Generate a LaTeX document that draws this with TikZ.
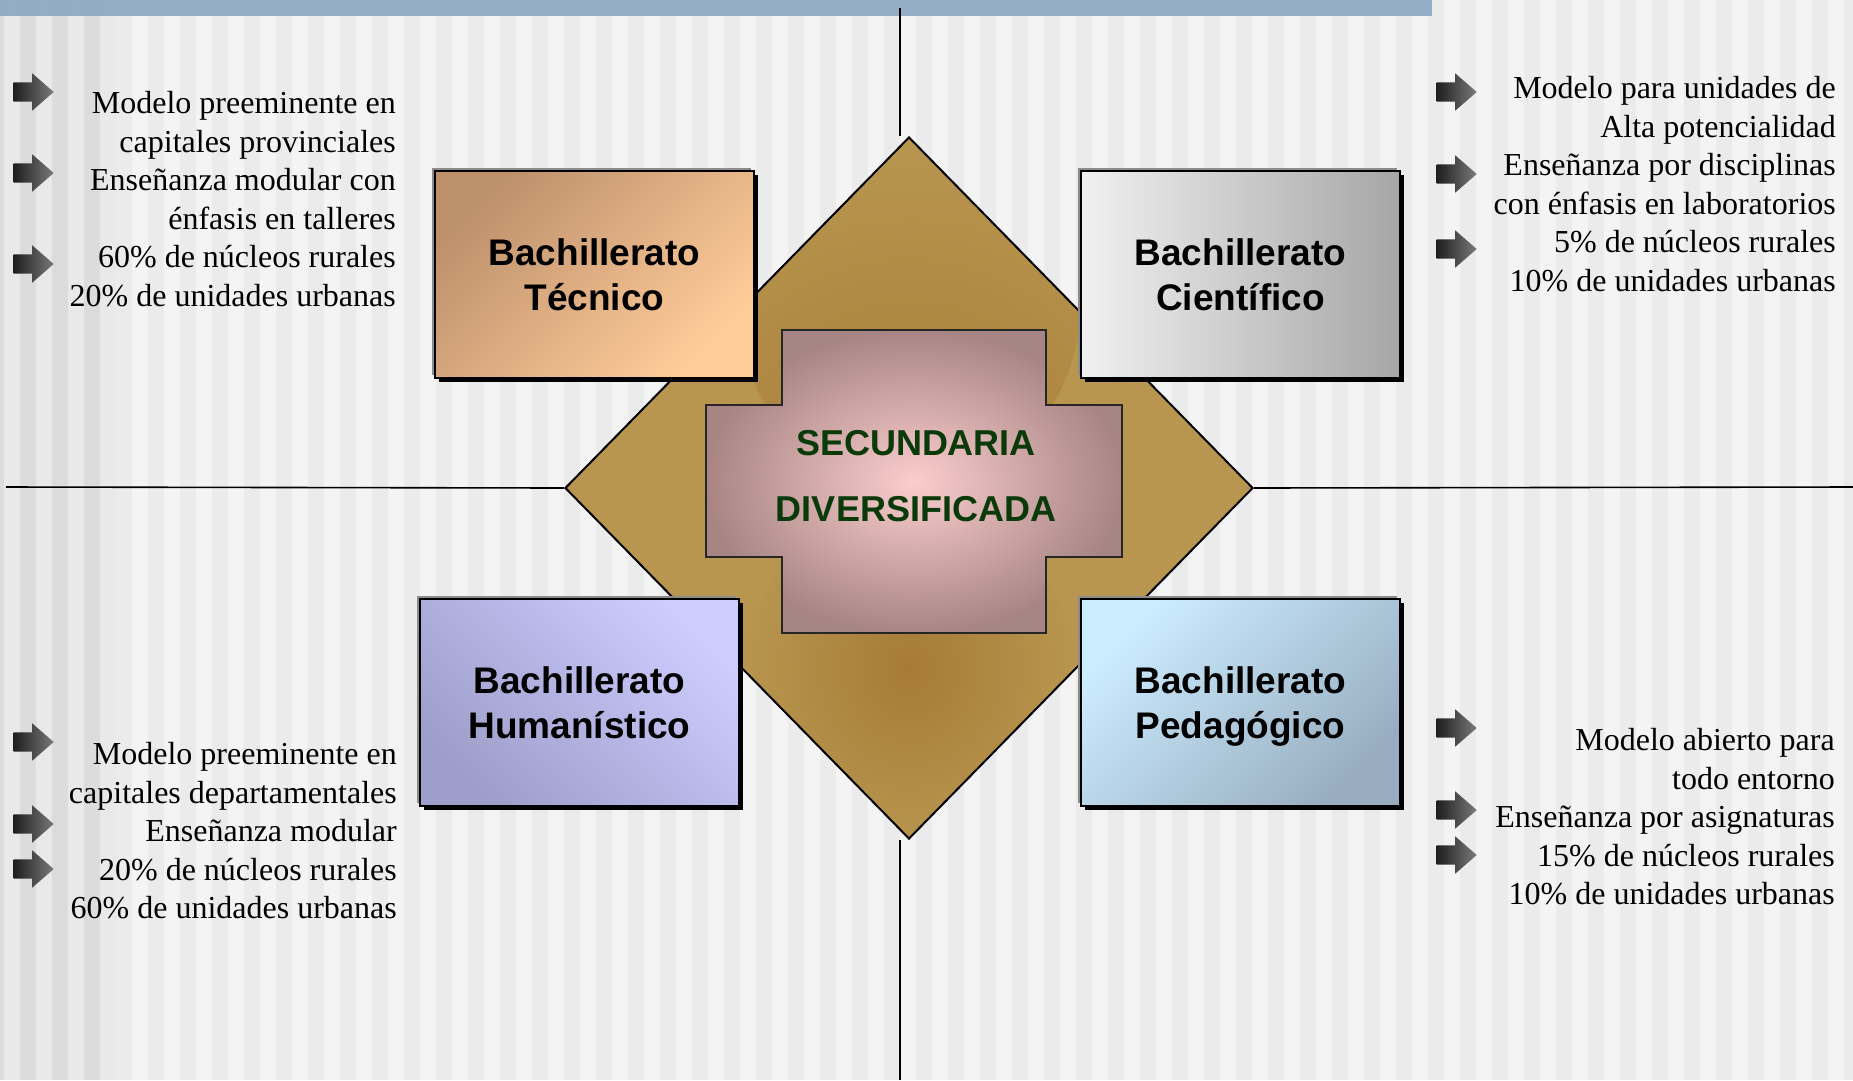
\documentclass[tikz,border=0pt]{standalone}
\usepackage{fontspec}
\setmainfont{Liberation Serif}
\setsansfont{Liberation Sans}
\usetikzlibrary{shapes.geometric,shapes.arrows,shadows}

\definecolor{stripeA}{HTML}{F4F4F4}
\definecolor{stripeB}{HTML}{EBEBEB}
\definecolor{stripeC}{HTML}{E9E9E9}
\definecolor{stripeD}{HTML}{DCDCDC}
\definecolor{barblue}{HTML}{8EA9C4}
\definecolor{gold}{HTML}{B8964F}
\definecolor{golddark}{HTML}{A67B36}
\definecolor{mauve}{HTML}{A88585}
\definecolor{pinkc}{HTML}{FBCDCD}
\definecolor{darkgreen}{HTML}{0A3A0A}
\definecolor{tecA}{HTML}{BE916D}
\definecolor{tecB}{HTML}{FFCC99}
\definecolor{cienA}{HTML}{F0F0F0}
\definecolor{cienB}{HTML}{A6A6A6}
\definecolor{humA}{HTML}{CCCCFF}
\definecolor{humB}{HTML}{9E9ECA}
\definecolor{pedA}{HTML}{CCECFF}
\definecolor{pedB}{HTML}{98AEC0}

\begin{document}
\begin{tikzpicture}[x=1pt, y=-1pt,
  box/.style={draw, line width=2.5pt, minimum width=319pt, minimum height=207pt, inner sep=0pt, align=center,
    font=\sffamily\bfseries\fontsize{37}{45}\selectfont,
    general shadow={fill=black!45, shadow xshift=-3pt, shadow yshift=3pt},
    general shadow={fill=black, shadow xshift=4pt, shadow yshift=-4pt}},
  notes/.style={anchor=east, inner sep=0pt, align=right, font=\fontsize{32}{38.5}\selectfont},
  bullet/.style={single arrow, anchor=tip, draw=none, inner sep=0pt, text height=19pt, minimum height=40pt,
    single arrow head extend=9pt, single arrow tip angle=82, left color=black!88, right color=black!52},
  rule/.style={line width=1.6pt}]
\useasboundingbox (0,0) rectangle (1853,1080);
\clip (0,0) rectangle (1853,1080);
\fill[stripeA] (0,0) rectangle (1853,1080);
\foreach \i in {0,...,58} \fill[stripeB] ({\i*32-12},0) rectangle ++(16,1080);
\fill[stripeC] (0,0) rectangle (116,1080);
\foreach \i in {0,...,3} \fill[stripeD] ({\i*32-12},0) rectangle ++(16,1080);
\fill[barblue, opacity=0.93] (0,0) rectangle (1432,16);

\coordinate (vtop) at (900,8);
\coordinate (vbot) at (900,1080);
\coordinate (hleft) at (6,487);
\coordinate (hright) at (1853,487);

\node[diamond, draw, line width=2pt, fill=gold, minimum width=688pt, minimum height=702pt, inner sep=0pt,
  path picture={
    \shade[inner color=golddark, outer color=gold] (path picture bounding box.center) ++(0,-175) circle (170);
    \shade[inner color=golddark, outer color=gold] (path picture bounding box.center) ++(0,192) circle (170);
  }] (hub) at (909,488) {};

\draw[rule] (vtop) -- (vtop |- hub.north);
\draw[rule] (vbot) -- (vbot |- hub.south);
\draw[rule] (hleft) -- (hub.west);
\draw[rule] (hub.east) -- (hright);

\shadedraw[inner color=pinkc, outer color=mauve, draw=black!85, line width=1.5pt]
  (782,330) -- (1046,330) -- (1046,405) -- (1122,405) -- (1122,557) -- (1046,557)
  -- (1046,633) -- (782,633) -- (782,557) -- (706,557) -- (706,405) -- (782,405) -- cycle;
\node[align=center, text=darkgreen, font=\sffamily\bfseries\fontsize{36}{66}\selectfont] (core) at (916,476) {SECUNDARIA\\DIVERSIFICADA};

\node[box, top color=tecA, bottom color=tecB, shading angle=45] (tecnico) at (594.5,274.5) {Bachillerato\\Técnico};
\node[box, left color=cienA, right color=cienB] (cientifico) at (1240.5,274.5) {Bachillerato\\Científico};
\node[box, top color=humA, bottom color=humB, shading angle=-45] (humanistico) at (579.5,702.5) {Bachillerato\\Humanístico};
\node[box, top color=pedA, bottom color=pedB, shading angle=45] (pedagogico) at (1240.5,702.5) {Bachillerato\\\smash{Pedagógico}};

\node[bullet] (tec1) at (54,92) {};
\node[bullet] (tec2) at (54,173) {};
\node[bullet] (tec3) at (54,264) {};
\node[notes] (tecnotes) at (396,199) {Modelo preeminente en\\capitales provinciales\\Enseñanza modular con\\énfasis en talleres\\60\% de núcleos rurales\\20\% de unidades urbanas};

\node[bullet] (cien1) at (1477,92) {};
\node[bullet] (cien2) at (1477,174) {};
\node[bullet] (cien3) at (1477,249) {};
\node[notes] (ciennotes) at (1836,184) {Modelo para unidades de\\Alta potencialidad\\Enseñanza por disciplinas\\con énfasis en laboratorios\\5\% de núcleos rurales\\10\% de unidades urbanas};

\node[bullet] (hum1) at (54,742) {};
\node[bullet] (hum2) at (54,824) {};
\node[bullet] (hum3) at (54,869) {};
\node[notes] (humnotes) at (397,831) {Modelo preeminente en\\capitales departamentales\\Enseñanza modular\\20\% de núcleos rurales\\60\% de unidades urbanas};

\node[bullet] (ped1) at (1477,728) {};
\node[bullet] (ped2) at (1477,810) {};
\node[bullet] (ped3) at (1477,855) {};
\node[notes] (pednotes) at (1835,817) {Modelo abierto para\\todo entorno\\Enseñanza por asignaturas\\15\% de núcleos rurales\\10\% de unidades urbanas};
\end{tikzpicture}
\end{document}
